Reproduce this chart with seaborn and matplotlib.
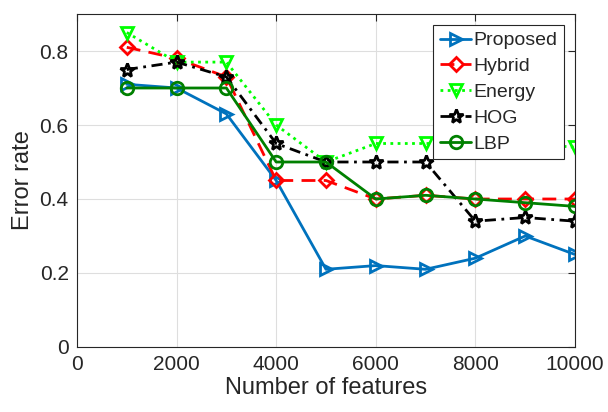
import matplotlib
matplotlib.use("Agg")
import matplotlib.pyplot as plt
import seaborn as sns
import pandas as pd

features = [1000, 2000, 3000, 4000, 5000, 6000, 7000, 8000, 9000, 10000]
proposed = [0.71, 0.70, 0.63, 0.45, 0.21, 0.22, 0.21, 0.24, 0.30, 0.25]
hybrid = [0.81, 0.78, 0.73, 0.45, 0.45, 0.40, 0.41, 0.40, 0.40, 0.40]
energy = [0.85, 0.77, 0.77, 0.60, 0.50, 0.55, 0.55, 0.55, 0.55, 0.54]
hog = [0.75, 0.77, 0.73, 0.55, 0.50, 0.50, 0.50, 0.34, 0.35, 0.34]
lbp = [0.70, 0.70, 0.70, 0.50, 0.50, 0.40, 0.41, 0.40, 0.39, 0.38]
series_names = ["Proposed", "Hybrid", "Energy", "HOG", "LBP"]
x_ticks = [0, 2000, 4000, 6000, 8000, 10000]
y_ticks = [0, 0.2, 0.4, 0.6, 0.8]

sns.set_style("white")
plt.rcParams["font.family"] = ["Liberation Sans", "DejaVu Sans"]

values = [proposed, hybrid, energy, hog, lbp]
df = pd.concat([pd.DataFrame({"features": features, "error": v, "method": n})
                for n, v in zip(series_names, values)], ignore_index=True)

styles = {
    "Proposed": dict(color="#0072BD", marker=">", ls="-", ms=9),
    "Hybrid": dict(color="#FF0000", marker="D", ls=(0, (5, 3)), ms=7.5),
    "Energy": dict(color="#00FF00", marker="v", ls=(0, (1, 1.6)), ms=9),
    "HOG": dict(color="#000000", marker="*", ls=(0, (4, 2, 1, 2)), ms=10),
    "LBP": dict(color="#008000", marker="o", ls="-", ms=9),
}

fig = plt.figure(figsize=(6.08, 4.12), dpi=100)
ax = fig.add_axes([0.1266, 0.1578, 0.8191, 0.8082])

handles = []
for name in series_names:
    st = styles[name]
    sns.lineplot(data=df[df["method"] == name], x="features", y="error", ax=ax,
                 color=st["color"], linewidth=2, legend=False)
    line = ax.lines[-1]
    line.set_linestyle(st["ls"])
    line.set_marker(st["marker"])
    line.set_markersize(st["ms"])
    line.set_markerfacecolor("none")
    line.set_markeredgecolor(st["color"])
    line.set_markeredgewidth(2)
    line.set_label(name)
    handles.append(line)

ax.set_xlim(0, 10000)
ax.set_ylim(0, 0.9)
ax.set_xticks(x_ticks)
ax.set_yticks(y_ticks)
ax.set_yticklabels([f"{t:g}" for t in y_ticks])
ax.grid(True, color="#DEDEDE", linewidth=0.8)
ax.set_axisbelow(True)
for sp in ax.spines.values():
    sp.set_color("#262626")
    sp.set_linewidth(0.8)
ax.tick_params(direction="in", length=5, width=0.8, top=True, right=True,
               labelsize=15, colors="#262626", pad=6)
ax.set_xlabel("Number of features", fontsize=17, color="#262626", labelpad=2)
ax.set_ylabel("Error rate", fontsize=17, color="#262626", labelpad=4)

leg = ax.legend(handles=handles, loc="upper right", bbox_to_anchor=(0.978, 0.967),
                fontsize=14, handlelength=1.6, handletextpad=0.1, labelspacing=0.42,
                borderpad=0.35, borderaxespad=0, frameon=True, fancybox=False,
                edgecolor="#262626", framealpha=1)
leg.get_frame().set_linewidth(0.8)

fig.savefig("out.png", dpi=100)
